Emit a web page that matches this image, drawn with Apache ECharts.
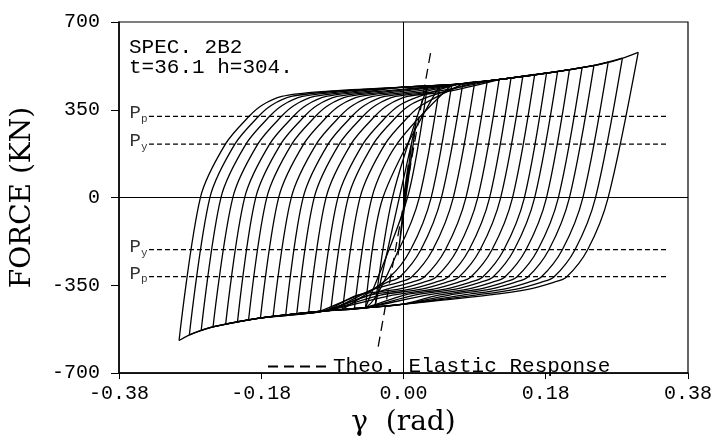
<!DOCTYPE html>
<html>
<head>
<meta charset="utf-8">
<title>SPEC. 2B2</title>
<script src="https://cdn.jsdelivr.net/npm/echarts@6.0.0/dist/echarts.min.js"></script>
<style>
  html, body { margin: 0; padding: 0; background: #fff; }
  #Chart { width: 715px; height: 442px; }
</style>
</head>
<body>
<div id="Chart"></div>
<script>
var xTickLabels = ['-0.38', '-0.18', '0.00', '0.18', '0.38'];

// peaks of each cycle
var negPeakX = [-0.036, -0.048, -0.062, -0.077, -0.092, -0.105, -0.120, -0.135, -0.149, -0.165, -0.181, -0.196, -0.210, -0.225, -0.241, -0.256, -0.271, -0.284];
var negPeakF = [-433, -437, -441, -445, -450, -453, -458, -463, -468, -474, -480, -487, -495, -504, -516, -530, -548, -570];
var posPeakX = [0.030, 0.046, 0.061, 0.075, 0.090, 0.106, 0.121, 0.136, 0.151, 0.166, 0.181, 0.195, 0.210, 0.226, 0.241, 0.259, 0.277, 0.297];
var posPeakF = [440, 447, 450, 453, 458, 464, 470, 476, 484, 491, 497, 503, 510, 518, 527, 540, 556, 579];
// zero force crossings after each negative / positive peak
var upZeroX = [-0.014, -0.026, -0.040, -0.055, -0.070, -0.083, -0.098, -0.113, -0.127, -0.142, -0.158, -0.173, -0.187, -0.201, -0.216, -0.231, -0.245, -0.257];
var downZeroX = [0.005, 0.020, 0.035, 0.048, 0.063, 0.079, 0.094, 0.109, 0.123, 0.138, 0.153, 0.166, 0.181, 0.196, 0.210, 0.227, 0.243, 0.259];

// reloading shape measured on the outer loop (offset from the zero crossing)
var upShapeDx = [0, 0.032, 0.062, 0.078, 0.103, 0.153];
var upShapeF = [0, 215, 325, 368, 403, 422];
var downShapeDx = [0, 0.026, 0.053, 0.069, 0.100, 0.152];
var downShapeF = [0, -208, -318, -338, -365, -389];

// dark bands where the loops pile up
var upperBandX = [0, 0.07, 0.12, 0.19, 0.24, 0.27];
var upperBandF = [440, 452, 470, 500, 526, 548];
var lowerBandX = [0, -0.05, -0.10, -0.18, -0.24, -0.265];
var lowerBandF = [-425, -440, -452, -480, -515, -540];

// first small elastic cycles and end of the test
var firstX = [0, 0.006, -0.004, 0.010, -0.007, 0.016];
var firstF = [0, 130, -150, 210, -230, 300];
var lastEnd = [-0.05, -440];

var elasticX = [-0.032, 0.035];
var elasticF = [-594, 590];

var levelNames = ['p', 'y', 'y', 'p'];
var levelF = [324, 213, -208, -315];
var levelX = [-0.322, 0.334];

function upBranch(k) {
  var z = upZeroX[k], px = posPeakX[k];
  var pts = [[negPeakX[k], negPeakF[k]], [z, 0]];
  var lastX = z;
  for (var j = 1; j < upShapeDx.length; j++) {
    var x = z + upShapeDx[j];
    if (x > px - 0.05) break;
    pts.push([x, upShapeF[j]]);
    lastX = x;
  }
  for (j = 0; j < upperBandX.length; j++) {
    if (upperBandX[j] > lastX + 0.04 && upperBandX[j] < px - 0.01) {
      pts.push([upperBandX[j], upperBandF[j]]);
    }
  }
  pts.push([px, posPeakF[k]]);
  return pts;
}

function downBranch(k) {
  var z = downZeroX[k];
  var end = k + 1 < negPeakX.length ? [negPeakX[k + 1], negPeakF[k + 1]] : lastEnd;
  var pts = [[posPeakX[k], posPeakF[k]], [z, 0]];
  var lastX = z;
  for (var j = 1; j < downShapeDx.length; j++) {
    var x = z - downShapeDx[j];
    if (x < end[0] + 0.05) break;
    pts.push([x, downShapeF[j]]);
    lastX = x;
  }
  for (j = 0; j < lowerBandX.length; j++) {
    if (lowerBandX[j] < lastX - 0.04 && lowerBandX[j] > end[0] + 0.01) {
      pts.push([lowerBandX[j], lowerBandF[j]]);
    }
  }
  pts.push(end);
  return pts;
}

function loopSeries(data) {
  return {
    type: 'line',
    data: data,
    symbol: 'none',
    smooth: 0.3,
    silent: true,
    z: 3,
    lineStyle: { color: '#000', width: 1.3 }
  };
}

var series = [];
var first = firstX.map(function (x, i) { return [x, firstF[i]]; });
first.push([negPeakX[0], negPeakF[0]]);
series.push(loopSeries(first));
for (var k = 0; k < posPeakX.length; k++) {
  series.push(loopSeries(upBranch(k)));
  series.push(loopSeries(downBranch(k)));
}

series.push({
  name: 'Theo. Elastic Response',
  type: 'line',
  data: elasticX.map(function (x, i) { return [x, elasticF[i]]; }),
  symbol: 'none',
  silent: true,
  z: 2,
  itemStyle: { color: '#000' },
  lineStyle: { color: '#000', width: 1.3, type: [10, 6] },
  markLine: {
    silent: true,
    symbol: ['none', 'none'],
    label: { show: false },
    lineStyle: { color: '#000', type: 'solid', width: 1.2 },
    data: [{ yAxis: 0 }, { xAxis: 0, lineStyle: { width: 1 } }]
  }
});

levelF.forEach(function (f) {
  series.push({
    type: 'line',
    data: [[levelX[0], f], [levelX[1], f]],
    symbol: 'none',
    silent: true,
    z: 2,
    lineStyle: { color: '#000', width: 1.3, type: [5, 3] }
  });
});

series.push({
  type: 'scatter',
  symbolSize: 1,
  silent: true,
  itemStyle: { color: 'rgba(0,0,0,0)' },
  label: {
    show: true,
    position: 'left',
    distance: 1,
    offset: [0, -3],
    rich: {
      a: { fontFamily: 'Liberation Mono', fontSize: 19, color: '#000' },
      b: { fontFamily: 'Liberation Mono', fontSize: 11, color: '#000', verticalAlign: 'bottom', padding: [12, 0, 0, 0] }
    }
  },
  data: levelF.map(function (f, i) {
    return { value: [levelX[0], f], label: { formatter: '{a|P}{b|' + levelNames[i] + '}' } };
  })
});

var myChart = echarts.init(document.getElementById('Chart'));
var option = {
  animation: false,
  backgroundColor: '#fff',
  grid: {
    left: 119,
    right: 21,
    top: 22,
    bottom: 63,
    show: true,
    borderColor: '#000',
    borderWidth: 1.2
  },
  legend: {
    data: ['Theo. Elastic Response'],
    left: 267,
    top: 356,
    padding: 0,
    itemWidth: 60,
    itemHeight: 10,
    selectedMode: false,
    itemStyle: { opacity: 0 },
    textStyle: { fontFamily: 'Liberation Mono', fontSize: 21, color: '#000' }
  },
  graphic: [{
    type: 'text',
    left: 129,
    top: 37,
    style: { text: 'SPEC. 2B2', font: '21px "Liberation Mono"', fill: '#000' }
  }, {
    type: 'text',
    left: 129,
    top: 57,
    style: { text: 't=36.1 h=304.', font: '21px "Liberation Mono"', fill: '#000' }
  }],
  xAxis: {
    type: 'value',
    min: -0.36,
    max: 0.36,
    interval: 0.18,
    name: 'γ  (rad)',
    nameLocation: 'middle',
    nameGap: 27,
    nameTextStyle: { fontFamily: 'DejaVu Serif', fontSize: 28, color: '#000' },
    axisLine: { onZero: false, lineStyle: { color: '#000', width: 1.5 } },
    axisTick: { length: 6, lineStyle: { color: '#000' } },
    axisLabel: {
      color: '#000',
      fontFamily: 'Liberation Mono',
      fontSize: 20,
      margin: 11,
      formatter: function (v) {
        return xTickLabels[Math.round((v + 0.36) / 0.18)];
      }
    },
    splitLine: { show: false }
  },
  yAxis: {
    type: 'value',
    min: -700,
    max: 700,
    interval: 350,
    name: 'FORCE (KN)',
    nameLocation: 'middle',
    nameGap: 82,
    nameTextStyle: { fontFamily: 'DejaVu Serif', fontSize: 28, color: '#000' },
    axisLine: { onZero: false, lineStyle: { color: '#000', width: 1.5 } },
    axisTick: { length: 8, lineStyle: { color: '#000' } },
    axisLabel: { color: '#000', fontFamily: 'Liberation Mono', fontSize: 20, margin: 19 },
    splitLine: { show: false }
  },
  series: series
};
myChart.setOption(option);
</script>
</body>
</html>
